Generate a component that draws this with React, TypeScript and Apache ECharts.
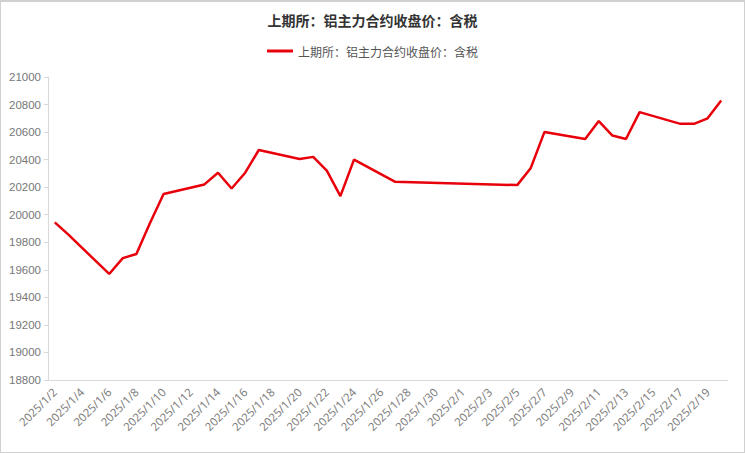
import React, { useEffect, useRef } from "react";
import * as echarts from "echarts";

const titleText = "上期所：铝主力合约收盘价：含税";
const seriesName = "上期所：铝主力合约收盘价：含税";

const dates = [
  "2025/1/2", "2025/1/3", "2025/1/4", "2025/1/5", "2025/1/6", "2025/1/7", "2025/1/8", "2025/1/9", "2025/1/10",
  "2025/1/11", "2025/1/12", "2025/1/13", "2025/1/14", "2025/1/15", "2025/1/16", "2025/1/17", "2025/1/18",
  "2025/1/19", "2025/1/20", "2025/1/21", "2025/1/22", "2025/1/23", "2025/1/24", "2025/1/25", "2025/1/26",
  "2025/1/27", "2025/1/28", "2025/1/29", "2025/1/30", "2025/1/31", "2025/2/1", "2025/2/2", "2025/2/3",
  "2025/2/4", "2025/2/5", "2025/2/6", "2025/2/7", "2025/2/8", "2025/2/9", "2025/2/10", "2025/2/11",
  "2025/2/12", "2025/2/13", "2025/2/14", "2025/2/15", "2025/2/16", "2025/2/17", "2025/2/18", "2025/2/19",
  "2025/2/20",
];

const prices: (number | null)[] = [
  19945, 19855, null, null, 19570, 19685, 19715, 19940, 20150,
  null, null, 20220, 20305, 20190, 20305, 20470, null,
  null, 20405, 20420, 20320, 20135, 20400, null, null,
  20240, null, null, null, null, null, null, null,
  null, 20215, 20340, 20600, null, null, 20550, 20680,
  20575, 20550, 20745, null, null, 20660, 20660, 20700,
  20830,
];

const yMin = 18800;
const yMax = 21000;
const yStep = 200;

export default function App() {
  const ref = useRef<HTMLDivElement>(null);
  useEffect(() => {
    if (!ref.current) return;
    const chart = echarts.init(ref.current, undefined, { renderer: "svg" });
    chart.setOption({
      animation: false,
      backgroundColor: "#fff",
      title: {
        text: titleText,
        left: "center",
        top: 6,
        textStyle: {
          fontSize: 14,
          fontWeight: "bold",
          color: "#333",
          fontFamily: "Noto Sans CJK SC",
        },
      },
      legend: {
        top: 38,
        left: "center",
        itemWidth: 26,
        itemHeight: 3,
        itemGap: 10,
        textStyle: { fontSize: 12, color: "#555", fontFamily: "Noto Sans CJK SC" },
        data: [{ name: seriesName, icon: "rect", itemStyle: { color: "#e8000b" } }],
      },
      grid: { left: 47, right: 16, top: 75, bottom: 72, containLabel: false },
      xAxis: {
        type: "category",
        data: dates,
        boundaryGap: true,
        axisLine: { lineStyle: { color: "#d9d9d9" } },
        axisTick: { interval: 1, lineStyle: { color: "#d9d9d9" } },
        axisLabel: {
          interval: 1,
          rotate: 45,
          fontSize: 11.5,
          color: "#808080",
          fontFamily: "Noto Sans",
          margin: 10,
        },
      },
      yAxis: {
        type: "value",
        min: yMin,
        max: yMax,
        interval: yStep,
        splitLine: { show: false },
        axisLine: { show: true, lineStyle: { color: "#d9d9d9" } },
        axisTick: { show: true, length: 4, lineStyle: { color: "#d9d9d9" } },
        axisLabel: {
          fontSize: 11.5,
          color: "#777",
          fontFamily: "Liberation Sans",
          margin: 7,
          formatter: (v: number) => String(v),
        },
      },
      series: [
        {
          name: seriesName,
          type: "line",
          data: prices,
          connectNulls: true,
          showSymbol: false,
          symbol: "none",
          lineStyle: { color: "#e8000b", width: 2.5 },
          itemStyle: { color: "#e8000b" },
        },
      ],
    });
    return () => chart.dispose();
  }, []);
  return (
    <div
      style={{
        position: "absolute",
        left: 0,
        top: 0,
        width: 745,
        height: 453,
        boxSizing: "border-box",
        border: "1px solid #d0d0d0",
        borderTopWidth: 2,
        background: "#fff",
      }}
    >
      <div ref={ref} style={{ width: 743, height: 450 }} />
    </div>
  );
}
